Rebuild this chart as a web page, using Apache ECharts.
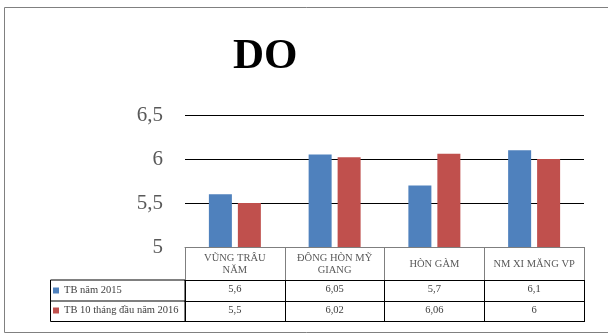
<!DOCTYPE html>
<html>
<head>
<meta charset="utf-8">
<script src="https://cdn.jsdelivr.net/npm/echarts@6/dist/echarts.min.js"></script>
<style>
    html, body { margin: 0; padding: 0; background: #fff; }
    #chart { width: 608px; height: 335px; }
</style>
</head>
<body>
<div id="chart"></div>
<script>
    // dữ liệu
    const categories = ['VŨNG TRÂU\nNĂM', 'ĐÔNG HÒN MỸ\nGIANG', 'HÒN GÀM', 'NM XI MĂNG VP'];
    const seriesNames = ['TB năm 2015', 'TB 10 tháng đầu năm 2016'];
    const tb2015 = [5.6, 6.05, 5.7, 6.1];
    const tb2016 = [5.5, 6.02, 6.06, 6];

    const serif = '"Liberation Serif", "DejaVu Serif", serif';
    const fmt = v => String(v).replace('.', ',');

    let myChart = echarts.init(document.getElementById('chart'));

    // trục x phụ để vẽ các dòng số liệu của bảng
    const rowAxis = (offset, values, tickLen) => ({
        type: 'category',
        position: 'bottom',
        offset: offset,
        data: categories,
        axisLine: { show: true, lineStyle: { color: '#000', width: 1 } },
        axisTick: { show: tickLen > 0, interval: 0, length: tickLen, lineStyle: { color: '#000' } },
        axisLabel: {
            show: !!values, interval: 0, margin: 4,
            fontFamily: serif, fontSize: 10.5, color: '#404040',
            formatter: (v, i) => values ? fmt(values[i]) : ''
        }
    });

    myChart.setOption({
        animation: false,
        color: ['#4F81BD', '#C0504D'],
        title: {
            text: 'DO', left: 228, top: 30,
            textStyle: { fontFamily: serif, fontSize: 43, fontWeight: 'bold', color: '#000' }
        },
        legend: {
            data: seriesNames,
            orient: 'vertical', left: 53, top: 285, padding: 0,
            icon: 'rect', itemWidth: 6, itemHeight: 6, itemGap: 9,
            textStyle: { fontFamily: serif, fontSize: 10.5, color: '#404040' }
        },
        grid: { left: 185, right: 24, top: 115, bottom: 88 },
        xAxis: [
            {
                type: 'category',
                data: categories,
                axisLine: { show: true, lineStyle: { color: '#7f7f7f' } },
                axisTick: { show: true, interval: 0, length: 33, lineStyle: { color: '#7f7f7f' } },
                axisLabel: {
                    show: true, interval: 0, margin: 17, lineHeight: 12,
                    fontFamily: serif, fontSize: 10.5, color: '#595959',
                    verticalAlign: 'middle'
                }
            },
            rowAxis(33, tb2015, 21),
            rowAxis(54, tb2016, 21),
            rowAxis(74.5, null, 0)
        ],
        yAxis: {
            type: 'value',
            min: 5, max: 6.5, interval: 0.5,
            axisLine: { show: false },
            axisTick: { show: false },
            splitLine: { lineStyle: { color: '#000', width: 1 } },
            axisLabel: { margin: 22, fontFamily: serif, fontSize: 21, color: '#595959', formatter: fmt }
        },
        graphic: [
            { type: 'rect', shape: { x: 4.5, y: 7.5, width: 640, height: 325 }, style: { fill: 'none', stroke: '#808080', lineWidth: 1 }, silent: true },
            { type: 'rect', shape: { x: 50.5, y: 280, width: 134.5, height: 41.5 }, style: { fill: 'none', stroke: '#000', lineWidth: 1 }, silent: true },
            { type: 'line', shape: { x1: 50.5, y1: 301, x2: 185, y2: 301 }, style: { stroke: '#000', lineWidth: 1 }, silent: true }
        ],
        series: [
            { name: seriesNames[0], type: 'bar', xAxisIndex: 0, barWidth: 23, barGap: '26%', data: tb2015 },
            { name: seriesNames[1], type: 'bar', xAxisIndex: 0, barWidth: 23, barGap: '26%', data: tb2016 }
        ]
    });
</script>
</body>
</html>
